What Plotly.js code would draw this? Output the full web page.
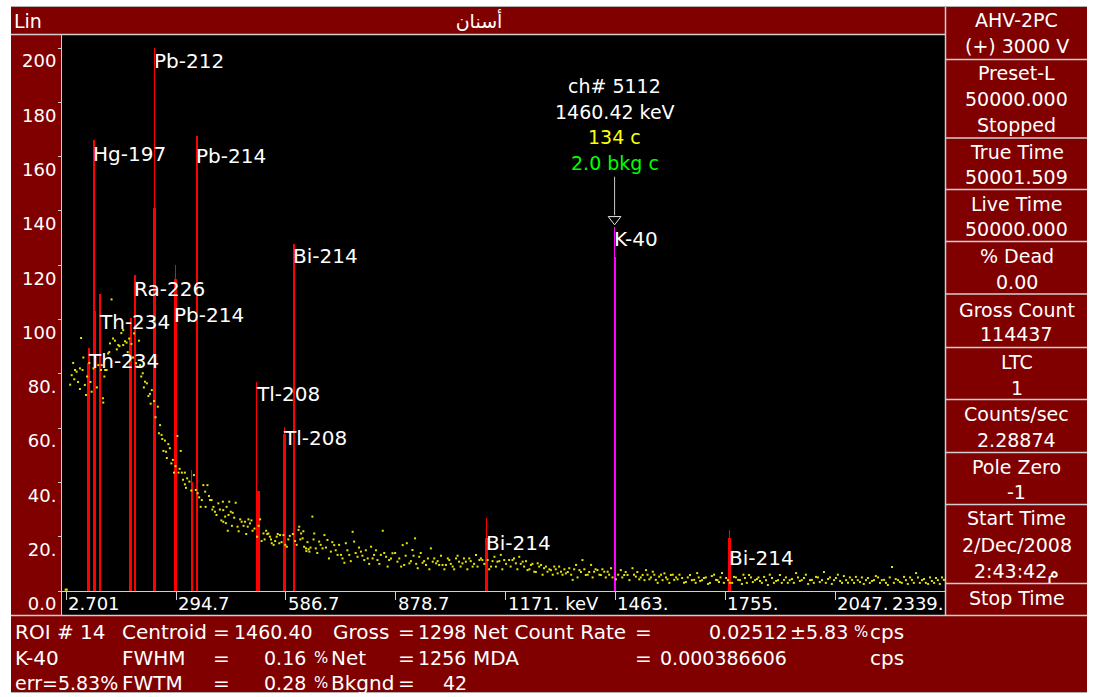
<!DOCTYPE html>
<html><head><meta charset="utf-8">
<script src="https://cdn.plot.ly/plotly-3.0.1.min.js"></script>
<style>html,body{margin:0;padding:0;background:#fff;} #chart{width:1093px;height:697px;}</style>
</head><body><div id="chart"></div>
<script>
// ---------------- DATA ----------------
// x-axis tick energies (keV) and their printed labels
const xTickKeV = [2.701, 294.7, 586.7, 878.7, 1170.7, 1462.7, 1754.7, 2046.7];
const xTickText = ["2.701", "294.7", "586.7", "878.7", "1171. keV", "1463.", "1755.", "2047."];
const xEndKeV = 2338;
const xEndText = "2339.";
// y-axis ticks
const yTickVals = [0, 20, 40, 60, 80, 100, 120, 140, 160, 180, 200];
const yTickText = ["0.0", "20.", "40.", "60.", "80.", "100", "120", "140", "160", "180", "200"];

// continuum (yellow dots): [energy keV, counts]
const continuum = [
[1,0.5],[4,0.5],[17,79.5],[21,84],[26,81.4],[30,80.8],[39,82],[39,74.4],[42,93.2],[46,81.4],[52,75.9],[55,72.2],[64,84],[70,73.4],
[88,83.2],[95,81.4],[97,83.2],[100,71],[101,69.4],[106,81.4],[110,81.4],[114,87.5],[119,91.2],[123,107.4],[132,92.2],[141,90.6],
[144,90.2],[154,90.6],[154,96.1],[163,91.5],[170,93],[183,94.9],[188,83.9],[192,82.6],[196,92.2],[199,83.2],[206,80.2],[212,77.1],
[217,76.5],[221,71.8],[225,72.6],[230,74],[246,67.9],[249,58.1],[252,61.1],[256,57.5],[261,51.6],[265,55.4],[268,51.3],[274,54.1],
[278,52.6],[286,48.3],[289,43.6],[298,57.1],[301,43.6],[307,51.6],[310,43.6],[318,43.6],[318,39.3],[324,41.5],[330,40.3],[342,42.7],
[347,37.2],[356,34.5],[363,33.5],[367,39],[372,36.6],[373,31],[378,39],[385,33.5],[389,33.5],[394,31],[398,29.2],[407,32.3],
[419,32.9],[420,29.8],[420,25.5],[425,27.4],[429,31],[432,22.2],[436,32.9],[440,29.2],[445,28.8],[453,32.5],[458,23.7],[465,26.4],
[469,25.5],[478,25.5],[485,23.7],[487,26.4],[491,24.9],[498,22.2],[518,26.4],[522,18.4],[527,21.2],[534,22.2],[540,21.2],[544,20],
[549,17.6],[558,18.4],[562,20],[569,17.6],[571,20.6],[580,20.6],[589,16.3],[597,20.3],[611,18.4],[620,22.5],[622,23.7],[627,21.2],
[631,19.4],[635,16.3],[640,15.7],[641,14.7],[647,15.4],[649,14.5],[657,27.4],[662,21.2],[666,15.7],[675,18.2],[684,15.7],[689,20.6],
[697,18.8],[706,14.5],[715,16.9],[724,13.3],[733,13.3],[742,10.4],[746,17.6],[755,13.3],[764,21.8],[768,18.2],[777,12.6],[786,14.5],
[795,11.4],[804,12],[813,16.3],[821,13.3],[830,11.4],[839,13.3],[844,22.2],[853,12.6],[861,11.4],[870,13.9],[883,10.8],[897,16.9],
[901,9.6],[908,17.6],[915,10.2],[923,15.1],[930,19.4],[937,8.4],[941,12.6],[950,10.4],[959,9.6],[972,15.7],[977,10.8],[986,10.2],
[994,9.6],[1003,9.6],[1012,9.6],[1021,11.4],[1030,9],[1039,12],[1047,10.8],[1056,10.2],[1065,10.8],[1074,12],[1083,9],[1092,13.3],
[1101,11.4],[1109,11.4],[1123,11.4],[1132,9],[1141,12.6],[1149,10.8],[1158,13.3],[1167,11.4],[1180,11.4],[1189,11.4],[1198,10.2],
[1207,12.6],[1216,10.8],[1229,7.7],[1238,9.6],[1247,7.1],[1256,10.2],[1265,9.6],[1273,8.4],[1282,7.1],[1291,7.7],[1300,9],[1309,6.5],
[1318,7.1],[1331,6.5],[1340,8.4],[1349,4.1],[1358,9.6],[1367,7.7],[1375,11.4],[1384,5.9],[1398,9.6],[1406,7.1],[1415,7.7],[1424,5.9],
[1433,7.1],[1442,7.1],[1451,8.4],[1464,4.3],[1477,7.7],[1486,5.9],[1495,5.9],[1508,8.4],[1517,5.3],[1526,4.3],[1535,5.9],[1544,7.7],
[1553,4.3],[1562,7.1],[1570,4.1],[1579,5.3],[1593,6.5],[1601,4.3],[1610,5.9],[1619,4.1],[1628,4.3],[1640,4.8],[1650,3.3],[1661,5.9],
[1672,4.1],[1680,6.6],[1688,3.7],[1698,4.8],[1709,2.6],[1719,5.5],[1730,4.1],[1738,3.3],[1746,6.6],[1757,4.8],[1767,3.0],[1778,5.2],
[1789,4.1],[1799,2.6],[1807,4.8],[1818,5.9],[1828,3.3],[1839,4.4],[1847,3.7],[1858,5.2],[1868,2.2],[1879,4.8],[1890,3.7],[1900,5.9],
[1911,4.1],[1921,3.0],[1932,4.4],[1943,6.6],[1953,3.7],[1964,4.8],[1975,2.6],[1985,4.1],[1996,5.2],[2006,3.3],[2017,7.0],[2028,4.4],
[2038,2.6],[2049,4.8],[2060,3.7],[2070,5.5],[2081,3.0],[2092,4.1],[2102,5.2],[2113,3.3],[2123,2.6],[2134,4.8],[2145,3.7],[2155,5.5],
[2166,3.0],[2177,4.1],[2187,2.2],[2198,8.8],[2208,4.4],[2219,3.3],[2230,5.2],[2240,2.6],[2251,4.1],[2262,6.6],[2272,3.0],[2283,4.4],
[2294,2.6],[2304,3.7],[2315,4.8],[2325,2.6],[2336,4.1],
// second pass of dots read from the denser parts of the cloud
[13,76],[24,78],[34,77],[48,86],[58,79],[67,77],[75,82],[84,75],[104,79],[117,88],[127,93],[137,89],[149,95],[159,92],[166,88],
[176,91],[180,86],[202,79],[209,75],[227,69],[236,70],[240,64],[258,56],[270,49],[282,47],[293,46],[304,45],[313,41],[321,38],
[335,37],[352,36],[360,31],[382,35],[391,30],[402,28],[411,30],[415,26],[427,25],[434,28],[443,24],[449,27],[461,22],[474,24],
[481,21],[495,26],[503,23],[510,20],[514,24],[530,19],[537,21],[547,19],[554,17],[565,21],[575,18],[585,17],[593,19],
[605,21],[615,17],[625,19],[633,22],[644,18],[652,16],[660,19],[670,14],[679,17],[693,16],[701,12],[710,18],[719,15],[728,17],
[737,12],[750,15],[759,11],[772,14],[781,16],[790,13],[799,15],[808,10],[817,12],[826,15],[835,10],[848,14],[857,9],[866,12],
[877,14],[888,12],[893,9],[905,13],[919,11],[926,13],[933,10],[945,14],[954,11],[964,12],[968,8],[981,12],[990,11],[999,13],
[1008,8],[1017,12],[1025,10],[1034,8],[1043,13],[1051,9],[1060,12],[1069,8],[1078,11],[1087,10],[1096,9],[1105,12],[1114,10],
[1127,8],[1136,11],[1145,9],[1154,11],[1162,8],[1172,10],[1184,9],[1193,12],[1202,8],[1211,10],[1220,9],[1225,11],[1234,8],
[1242,10],[1251,7],[1260,9],[1269,6],[1278,9],[1287,8],[1296,6],[1304,8],[1313,9],[1322,6],[1327,8],[1336,7],[1345,6],[1353,8],
[1362,5],[1371,7],[1380,8],[1389,6],[1393,7],[1402,5],[1410,8],[1420,6],[1428,8],[1437,5],[1446,6],[1455,5],[1470,6],[1481,5],
[1490,7],[1500,4],[1512,6],[1521,7],[1530,5],[1540,4],[1548,6],[1557,5],[1566,6],[1575,3],[1584,6],[1588,4],[1597,5],[1606,3],
[1615,6],[1624,5],[1633,6],[1645,3],[1655,5],[1666,4],[1676,3],[1684,5],[1693,4],[1703,5],[1714,3],[1725,6],[1734,4],[1742,5],
[1751,3],[1762,4],[1773,3],[1783,5],[1794,4],[1803,6],[1812,3],[1823,5],[1834,4],[1843,5],[1852,3],[1863,4],[1873,6],[1884,3],
[1895,4],[1905,3],[1916,5],[1926,4],[1937,3],[1948,5],[1958,4],[1969,6],[1980,4],[1990,3],[2001,5],[2012,4],[2022,3],[2033,5],
[2044,4],[2054,6],[2065,3],[2076,4],[2086,5],[2097,3],[2107,4],[2118,5],[2129,4],[2139,3],[2150,4],[2161,5],[2171,4],[2182,3],
[2192,5],[2203,3],[2214,4],[2224,3],[2235,4],[2246,5],[2256,3],[2267,5],[2278,4],[2288,3],[2299,5],[2310,3],[2320,4],[2331,5]
];
const dotKeV = continuum.map(p => p[0]);
const dotCounts = continuum.map(p => p[1]);

// ROI peaks (red): peak channel (thin line) and shoulder (wider bar)
const peakKeV      = [63, 76, 92, 175, 185, 238, 293, 336, 350, 509, 582, 608, 1120, 1766];
const peakTop      = [89.4, 166, 109.4, 100.6, 116.4, 200, 120, 44.5, 167.6, 77, 60.5, 128, 26.8, 22.5];
const shoulderKeV  = [62, 78, 92, 174, 185, 237, 293, 337, 350, 513, 582, 608, 1120, 1766];
const shoulderTop  = [84, 103, 98, 93, 95, 141, 115, 40, 100, 37, 58, 120, 19.5, 19.5];
// K-40 ROI (magenta)
const k40KeV = 1460.8;
const k40Top = 134;
const k40Shoulder = 123;

// peak labels
const labelText = ["Pb-212","Hg-197","Pb-214","Bi-214","Ra-226","Th-234","Pb-214","Th-234","Tl-208","Tl-208","Bi-214","K-40","Bi-214"];
const labelKeV  = [238, 76, 350, 608, 185, 91, 293, 62, 509, 582, 1120, 1460.8, 1766];
const labelY    = [195.2, 161.0, 160.2, 123.4, 111.2, 99.1, 101.7, 84.7, 72.6, 56.4, 17.7, 129.7, 12.2];

// cursor info block
const cursorKeV = 1460.42;
const cursorText = ["ch# 5112", "1460.42 keV", "134 c", "2.0 bkg c"];
const cursorTextY = [186.0, 176.6, 167.2, 157.5];
const cursorColors = ["#ffffff", "#ffffff", "#ffff00", "#00ff00"];
const cursorLineTop = 152.6, cursorLineBottom = 138.4, cursorMarkY = 136.9;

// header texts
const headerLeft = "Lin";
const titleText = "أسنان";

// right status panel
const panelText = ["AHV-2PC","(+) 3000 V","Preset-L","50000.000","Stopped","True Time","50001.509","Live Time","50000.000",
  "% Dead","0.00","Gross Count","114437","LTC","1","Counts/sec","2.28874","Pole Zero","-1","Start Time","2/Dec/2008","2:43:42م","Stop Time"];
// bottom ROI report: [text, x, anchor, size]
const bottomRows = [
  [["ROI # 14",14],["Centroid",121],["=",221,"center"],["1460.40",233,"left",19],["Gross",332],["=",406.5,"center"],["1298",417,"left",19],
   ["Net Count Rate",472],["=",643.5,"center"],["0.02512",708,"left",19],["±5.83",789,"left",19],["%",853,"left",15],["cps",869]],
  [["K-40",14],["FWHM",121],["=",221,"center"],["0.16",307,"right",19],["%",313,"left",15],["Net",330],["=",406.5,"center"],["1256",417,"left",19],
   ["MDA",472],["=",643.5,"center"],["0.000386606",659,"left",19],["cps",869]],
  [["err=5.83%",14,"left",19],["FWTM",121],["=",221,"center"],["0.28",307,"right",19],["%",313,"left",15],["Bkgnd",330],["=",406.5,"center"],["42",442,"left",19]]
];

// ---------------- LAYOUT HELPERS ----------------
const FONT = "DejaVu Sans, Verdana, sans-serif";
const W = 1093, H = 697, L = 62, R = 945, T = 35, B = 591;
const PX = x => (x - L) / (R - L);
const PY = y => (B - y) / (B - T);
const WHITE = "#ffffff", GRAY = "#cfcfcf", DARKRED = "#800000";

const ann = [];
function txt(text, x, y, opt) {
  opt = opt || {};
  ann.push({text: text, xref: "paper", yref: "paper", x: PX(x), y: PY(y),
    xanchor: opt.anchor || "left", yanchor: "middle", showarrow: false,
    borderpad: 0, font: {family: FONT, size: opt.size || 19, color: opt.color || WHITE}});
}

// header
txt(headerLeft, 13, 21, {size: 19});

// right panel
const panelY = [20,46,73,99,125,152,177,204,229,256,282,310,334,362,388,414,440,467,492,518,545,571,598];
panelText.forEach((t, i) => txt(t, 1017, panelY[i], {anchor: "center", size: 19}));

// bottom panel
const rowY = [632, 658, 683];
bottomRows.forEach((row, r) => row.forEach(seg => txt(seg[0], seg[1], rowY[r], {anchor: seg[2] || "left", size: seg[3] || 20})));

// x tick labels
xTickKeV.forEach((v, i) => ann.push({text: xTickText[i], xref: "x", yref: "paper", x: v, y: PY(603),
  xanchor: "left", yanchor: "middle", xshift: 1, showarrow: false, borderpad: 0,
  font: {family: FONT, size: 18, color: WHITE}}));
ann.push({text: xEndText, xref: "x", yref: "paper", x: xEndKeV, y: PY(603), xanchor: "right", yanchor: "middle",
  showarrow: false, borderpad: 0, font: {family: FONT, size: 18, color: WHITE}});

// peak labels
labelText.forEach((t, i) => ann.push({text: t, xref: "x", yref: "y", x: labelKeV[i], y: labelY[i],
  xanchor: "left", yanchor: "middle", xshift: -2, showarrow: false, borderpad: 0,
  font: {family: FONT, size: 20, color: WHITE}}));

// cursor info
cursorText.forEach((t, i) => ann.push({text: t, xref: "x", yref: "y", x: cursorKeV, y: cursorTextY[i],
  xanchor: "center", yanchor: "middle", showarrow: false, borderpad: 0,
  font: {family: FONT, size: 19, color: cursorColors[i]}}));

// ---------------- SHAPES (frame) ----------------
const shapes = [];
function rect(x0, y0, x1, y1, fill, line, layer) {
  shapes.push({type: "rect", xref: "paper", yref: "paper", x0: PX(x0), x1: PX(x1), y0: PY(y1), y1: PY(y0),
    fillcolor: fill, line: line || {width: 0}, layer: layer || "below"});
}
function hline(x0, x1, y, color, w) {
  shapes.push({type: "line", xref: "paper", yref: "paper", x0: PX(x0), x1: PX(x1), y0: PY(y), y1: PY(y),
    line: {color: color, width: w || 1}, layer: "above"});
}
function vline(x, y0, y1, color, w) {
  shapes.push({type: "line", xref: "paper", yref: "paper", x0: PX(x), x1: PX(x), y0: PY(y0), y1: PY(y1),
    line: {color: color, width: w || 1}, layer: "above"});
}
// white outer margins
rect(0, 0, W, 6, WHITE);
rect(0, 0, 11, H, WHITE);
rect(1087, 0, W, H, WHITE);
rect(0, 693, W, H, WHITE);
// black x-label band
rect(L, B, R, 615, "#000000");
// borders
hline(11, 1087, 6.5, "#b0b0b0", 1);
hline(11, R, 34.5, GRAY, 1.5);
vline(R + 0.5, 7, 615, GRAY, 1.5);
vline(L - 0.5, B, 615, GRAY, 1);
hline(11, 1087, 615.5, GRAY, 1.5);
hline(11, 1087, 692.5, "#b0b0b0", 1);
[59.5, 138, 189.5, 241.5, 294, 347.5, 399.5, 452.5, 504.5, 583.5].forEach(y => hline(R + 1, 1087, y, GRAY, 1.5));
// cursor line
shapes.push({type: "line", xref: "x", yref: "y", x0: cursorKeV, x1: cursorKeV, y0: cursorLineBottom, y1: cursorLineTop,
  line: {color: "#c8c8c8", width: 1}, layer: "above"});

// ---------------- TRACES ----------------
const traces = [
  {type: "scatter", mode: "markers", x: dotKeV, y: dotCounts, marker: {symbol: "square", size: 2, color: "#e6e600", line: {width: 0}}, hoverinfo: "skip"},
  {type: "bar", x: shoulderKeV, y: shoulderTop, width: 7, marker: {color: "#ff0000", opacity: 1, line: {width: 0}}, hoverinfo: "skip"},
  {type: "bar", x: peakKeV, y: peakTop, width: 3.4, marker: {color: "#ff0000", opacity: 1, line: {width: 0}}, hoverinfo: "skip"},
  {type: "bar", x: [k40KeV, k40KeV], y: [k40Shoulder, k40Top], width: [6, 3.4], marker: {color: "#ff00ff", opacity: 1, line: {width: 0}}, hoverinfo: "skip"},
  {type: "scatter", mode: "markers", x: [cursorKeV], y: [cursorMarkY], marker: {symbol: "triangle-down-open", size: 11, color: "#e8e8e8", line: {width: 1}}, hoverinfo: "skip"}
];

const layout = {
  width: W, height: H,
  margin: {l: L, r: W - R, t: T, b: H - B, pad: 0},
  paper_bgcolor: DARKRED, plot_bgcolor: "#000000",
  showlegend: false, barmode: "overlay", bargap: 0,
  font: {family: FONT, color: WHITE},
  title: {text: titleText, x: 479 / W, xanchor: "center", y: 1 - 21 / H, yanchor: "middle", xref: "container", yref: "container",
    font: {family: FONT, size: 19, color: WHITE}},
  xaxis: {range: [-8.7, 2338.9], showgrid: false, zeroline: false, showline: true, linecolor: GRAY, linewidth: 1,
    ticks: "outside", ticklen: 8, tickcolor: GRAY, tickwidth: 1, tickvals: xTickKeV, showticklabels: false, fixedrange: true},
  yaxis: {range: [0, 204.8], showgrid: false, zeroline: false, showline: true, linecolor: GRAY, linewidth: 1,
    ticks: "outside", ticklen: 3, tickcolor: GRAY, tickvals: yTickVals, ticktext: yTickText,
    ticklabelshift: 13, ticklabelstandoff: -2, tickfont: {family: FONT, size: 18, color: WHITE}, fixedrange: true},
  shapes: shapes, annotations: ann
};

Plotly.newPlot("chart", traces, layout, {displayModeBar: false, staticPlot: true});
</script></body></html>
